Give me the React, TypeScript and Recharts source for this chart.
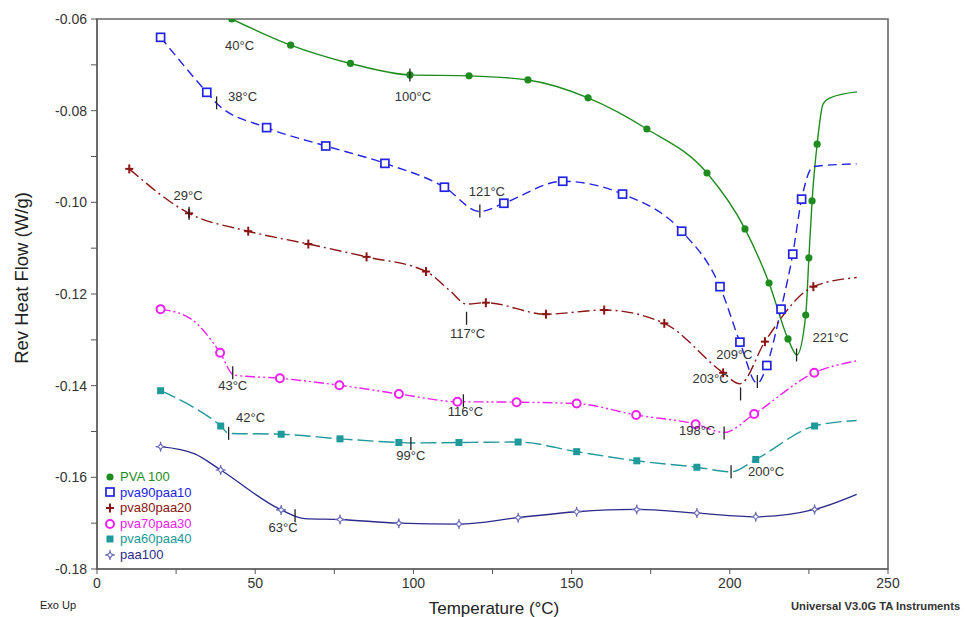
import React from "react"
import { LineChart, Line, XAxis, YAxis, ReferenceArea, ReferenceDot } from "recharts"

// Rev heat flow curves: [temperature °C, W/g]
const pva100Curve = [
  [42.6, -0.0600], [61.2, -0.0657], [80.1, -0.0697], [98.9, -0.0722], [117.6, -0.0724],
  [136.2, -0.0733], [155.2, -0.0772], [173.8, -0.084], [192.8, -0.0936], [204.8, -0.1058],
  [212.4, -0.1176], [218.4, -0.1298], [221.2, -0.1333], [224.0, -0.1246], [225.0, -0.1121],
  [226.0, -0.0997], [227.6, -0.0873], [229.5, -0.0785], [231.7, -0.0772], [240.2, -0.0759],
]
const pva100Marks = [42.6, 61.2, 80.1, 98.9, 117.6, 136.2, 155.2, 173.8, 192.8, 204.8, 212.4, 218.4, 224.0, 225.0, 226.0, 227.6]

const pva90Curve = [
  [20.1, -0.064], [34.7, -0.076], [37.8, -0.0784], [53.6, -0.0837], [72.3, -0.0877],
  [91.0, -0.0915], [109.8, -0.0967], [121.0, -0.102], [128.6, -0.1002], [147.2, -0.0954],
  [166.1, -0.0982], [184.8, -0.1063], [196.9, -0.1184], [203.2, -0.1305], [208.7, -0.1395],
  [211.7, -0.1356], [216.2, -0.1233], [219.9, -0.1113], [222.7, -0.0993], [226.4, -0.0922],
  [240.1, -0.0916],
]
const pva90Marks = [20.1, 34.7, 53.6, 72.3, 91.0, 109.8, 128.6, 147.2, 166.1, 184.8, 196.9, 203.2, 211.7, 216.2, 219.9, 222.7]

const pva80Curve = [
  [10.2, -0.0927], [29.1, -0.1024], [47.8, -0.1063], [66.8, -0.1091], [85.2, -0.1119],
  [104.0, -0.1151], [111.6, -0.1193], [116.8, -0.1222], [122.9, -0.1219], [141.9, -0.1244],
  [160.3, -0.1235], [179.3, -0.1264], [197.9, -0.1372], [203.2, -0.1396], [211.1, -0.1304],
  [226.4, -0.1184], [240.1, -0.1164],
]
const pva80Marks = [10.2, 29.1, 47.8, 66.8, 85.2, 104.0, 122.9, 141.9, 160.3, 179.3, 197.9, 211.1, 226.4]

const pva70Curve = [
  [20.1, -0.1233], [29.4, -0.1253], [38.9, -0.1328], [43.3, -0.1377], [57.8, -0.1384],
  [76.6, -0.1399], [95.4, -0.1418], [113.9, -0.1435], [132.6, -0.1436], [151.6, -0.1439],
  [170.4, -0.1464], [189.2, -0.1484], [198.2, -0.1502], [207.7, -0.1462], [226.7, -0.1372],
  [240.1, -0.1346],
]
const pva70Marks = [20.1, 38.9, 57.8, 76.6, 95.4, 113.9, 132.6, 151.6, 170.4, 189.2, 207.7, 226.7]

const pva60Curve = [
  [20.1, -0.1411], [29.2, -0.1442], [39.1, -0.1488], [41.6, -0.1504], [58.2, -0.1506],
  [76.8, -0.1516], [95.4, -0.1524], [99.2, -0.1525], [114.4, -0.1524], [133.1, -0.1523],
  [151.6, -0.1544], [170.6, -0.1564], [189.6, -0.1578], [200.4, -0.1588], [208.2, -0.1561],
  [226.8, -0.1488], [240.1, -0.1476],
]
const pva60Marks = [20.1, 39.1, 58.2, 76.8, 95.4, 114.4, 133.1, 151.6, 170.6, 189.6, 208.2, 226.8]

const paa100Curve = [
  [20.1, -0.1533], [30.9, -0.1549], [39.1, -0.1584], [58.2, -0.1671], [65.6, -0.169],
  [76.8, -0.1692], [95.4, -0.17], [114.4, -0.1702], [133.1, -0.1688], [151.6, -0.1675],
  [170.6, -0.167], [189.6, -0.1678], [208.2, -0.1686], [226.8, -0.167], [240.1, -0.1637],
]
const paa100Marks = [20.1, 39.1, 58.2, 76.8, 95.4, 114.4, 133.1, 151.6, 170.6, 189.6, 208.2, 226.8]

// transition annotations: [temperature, W/g, label]
const transitions = [
  [40, -0.06, "40°C"],
  [98.9, -0.0722, "100°C"],
  [37.8, -0.0783, "38°C"],
  [121.0, -0.1019, "121°C"],
  [208.7, -0.1391, "209°C"],
  [29.1, -0.1024, "29°C"],
  [116.8, -0.1253, "117°C"],
  [203.4, -0.1418, "203°C"],
  [42.9, -0.1372, "43°C"],
  [115.8, -0.1433, "116°C"],
  [198.2, -0.1503, "198°C"],
  [41.6, -0.1504, "42°C"],
  [99.2, -0.1526, "99°C"],
  [200.4, -0.1588, "200°C"],
  [221.1, -0.1333, "221°C"],
  [62.6, -0.1684, "63°C"],
]

const xTicks = [0, 25, 50, 75, 100, 125, 150, 175, 200, 225, 250]
const yTicks = [-0.18, -0.17, -0.16, -0.15, -0.14, -0.13, -0.12, -0.11, -0.1, -0.09, -0.08, -0.07, -0.06]

// label placement relative to the tick (px), same order as transitions
const labelOffsets = [
  [16, 26, false], [3, 22, true], [26, -6, true], [7, -20, true], [-23, -27, true], [-1, -18, true],
  [1, 15, true], [-30, -15, true], [0, 13, true], [2, 11, true], [-27, -2, true], [22, -16, true],
  [0, 12, true], [35, 0, true], [34, -17, true], [-12, 12, true],
]

const FONT = "'Liberation Sans', Arial, sans-serif"

const series = [
  { name: "PVA 100", curve: pva100Curve, marks: pva100Marks, color: "#1f8c1f", mark: "dot", dash: undefined },
  { name: "pva90paa10", curve: pva90Curve, marks: pva90Marks, color: "#2323e6", mark: "square", dash: "9 5" },
  { name: "pva80paa20", curve: pva80Curve, marks: pva80Marks, color: "#8b1414", mark: "plus", dash: "12 4 2 4" },
  { name: "pva70paa30", curve: pva70Curve, marks: pva70Marks, color: "#f020f0", mark: "ring", dash: "10 3 2 3 2 3" },
  { name: "pva60paa40", curve: pva60Curve, marks: pva60Marks, color: "#20999a", mark: "block", dash: "16 5" },
  { name: "paa100", curve: paa100Curve, marks: paa100Marks, color: "#2b2b8c", mark: "star", dash: undefined },
]

function Marker({ kind, color, x, y }) {
  switch (kind) {
    case "dot":
      return <circle cx={x} cy={y} r={3.6} fill={color} />
    case "square":
      return <rect x={x - 4} y={y - 4} width={8} height={8} fill="#fff" stroke={color} strokeWidth={1.7} />
    case "plus":
      return (
        <g stroke={color} strokeWidth={2}>
          <line x1={x - 4} y1={y} x2={x + 4} y2={y} />
          <line x1={x} y1={y - 4.5} x2={x} y2={y + 4.5} />
        </g>
      )
    case "ring":
      return <circle cx={x} cy={y} r={4} fill="#fff" stroke={color} strokeWidth={2} />
    case "block":
      return <rect x={x - 3.5} y={y - 3.5} width={7} height={7} fill={color} />
    default:
      return (
        <path
          d={`M${x},${y - 5} Q${x},${y} ${x + 5},${y} Q${x},${y} ${x},${y + 5} Q${x},${y} ${x - 5},${y} Q${x},${y} ${x},${y - 5}Z`}
          fill="#fff"
          stroke="#6a6ab8"
          strokeWidth={1.1}
        />
      )
  }
}

export default function App() {
  return (
    <div style={{ position: "absolute", left: 0, top: 0, width: 972, height: 617, background: "#fff", fontFamily: FONT }}>
      <LineChart width={972} height={617} margin={{ top: 19, right: 84, bottom: 18, left: 37 }}>
        <XAxis
          type="number"
          dataKey="t"
          domain={[0, 250]}
          ticks={xTicks}
          allowDataOverflow
          stroke="#555"
          tickSize={5}
          tickMargin={4}
          height={30}
          tick={{ fill: "#333", fontSize: 14, fontFamily: FONT }}
          tickFormatter={(v) => (v % 50 === 0 ? String(v) : "")}
        />
        <YAxis
          type="number"
          dataKey="v"
          domain={[-0.18, -0.06]}
          ticks={yTicks}
          allowDataOverflow
          width={60}
          stroke="#555"
          tickSize={6}
          tickMargin={4}
          tick={{ fill: "#333", fontSize: 14, fontFamily: FONT }}
          tickFormatter={(v) => (Math.round(v * 100) % 2 === 0 ? v.toFixed(2) : "")}
        />
        <ReferenceArea x1={0} x2={250} y1={-0.18} y2={-0.06} fill="none" stroke="#666" strokeWidth={1.6} ifOverflow="visible" />
        {series.map((s) => (
          <Line
            key={s.name}
            data={s.curve.map(([t, v]) => ({ t, v }))}
            dataKey="v"
            type="monotone"
            stroke={s.color}
            strokeWidth={1.4}
            strokeDasharray={s.dash}
            isAnimationActive={false}
            activeDot={false}
            dot={(p) =>
              s.marks.includes(p.payload.t) ? (
                <Marker key={`${s.name}-${p.index}`} kind={s.mark} color={s.color} x={p.cx} y={p.cy} />
              ) : (
                <g key={`${s.name}-${p.index}`} />
              )
            }
          />
        ))}
        {transitions.map(([t, v, text], i) => {
          const [dx, dy, showTick] = labelOffsets[i]
          return (
            <ReferenceDot
              key={text + i}
              x={t}
              y={v}
              ifOverflow="visible"
              shape={(p) => (
                <g>
                  {showTick && <line x1={p.cx} y1={p.cy - 6.5} x2={p.cx} y2={p.cy + 6.5} stroke="#222" strokeWidth={1.3} />}
                  <text
                    x={p.cx + dx}
                    y={p.cy + dy}
                    textAnchor="middle"
                    dominantBaseline="central"
                    fontSize={13}
                    fontFamily={FONT}
                    fill="#333"
                  >
                    {text}
                  </text>
                </g>
              )}
            />
          )
        })}
      </LineChart>

      <div style={{ position: "absolute", left: 104, top: 469, fontSize: 13, lineHeight: "15.6px" }}>
        {series.map((s) => (
          <div key={s.name} style={{ display: "flex", alignItems: "center", color: s.color }}>
            <svg width={12} height={12} style={{ marginRight: 4 }}>
              <Marker kind={s.mark} color={s.color} x={6} y={6} />
            </svg>
            {s.name}
          </div>
        ))}
      </div>

      <div
        style={{
          position: "absolute",
          left: 22,
          top: 278,
          transform: "translate(-50%, -50%) rotate(-90deg)",
          fontSize: 18.5,
          color: "#222",
          whiteSpace: "nowrap",
        }}
      >
        Rev Heat Flow (W/g)
      </div>
      <div style={{ position: "absolute", left: 494, top: 609, transform: "translate(-50%, -50%)", fontSize: 17, color: "#222", whiteSpace: "nowrap" }}>
        Temperature (°C)
      </div>
      <div style={{ position: "absolute", left: 40, top: 599, fontSize: 11, color: "#222" }}>Exo Up</div>
      <div style={{ position: "absolute", left: 791, top: 600, fontSize: 11.2, fontWeight: "bold", color: "#333", whiteSpace: "nowrap" }}>
        Universal V3.0G TA Instruments
      </div>
    </div>
  )
}
